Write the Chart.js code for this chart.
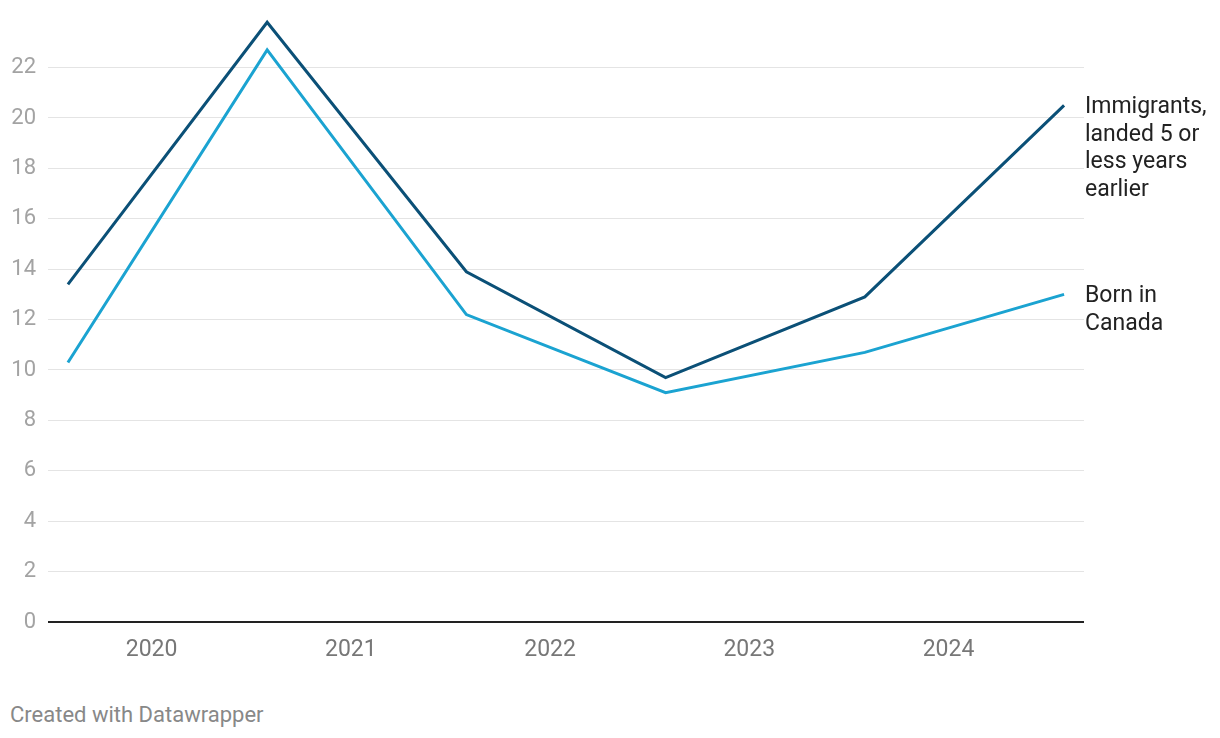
<!DOCTYPE html>
<html>
<head>
<meta charset="utf-8">
<script src="https://cdn.jsdelivr.net/npm/chart.js@4"></script>
<style>
  html, body { margin: 0; padding: 0; background: #fff; }
  body { width: 1220px; height: 738px; position: relative; overflow: hidden; font-family: Roboto, sans-serif; }
  #wrap { position: absolute; left: 0; top: -8px; width: 1220px; height: 690px; }
  #credit { position: absolute; left: 10px; top: 702px; font-size: 22px; line-height: 26px; color: #888; }
</style>
</head>
<body>
<div id="wrap"><canvas id="lineChart"></canvas></div>
<div id="credit">Created with Datawrapper</div>
<script>
// point positions as decimal years (one reading per year)
const pointYears = [2020.08, 2021.08, 2022.08, 2023.08, 2024.08, 2025.08];
const yearLabels = [2020, 2021, 2022, 2023, 2024];
const immigrants = [13.4, 23.8, 13.9, 9.7, 12.9, 20.5];
const bornInCanada = [10.3, 22.7, 12.2, 9.1, 10.7, 13.0];
const seriesNames = [['Immigrants,', 'landed 5 or', 'less years', 'earlier'], ['Born in', 'Canada']];
const yTicks = [0, 2, 4, 6, 8, 10, 12, 14, 16, 18, 20, 22];

function toPoints(values) {
    return values.map(function (v, i) { return { x: pointYears[i], y: v }; });
}

// draw the series names next to the last point
const endLabels = {
    id: 'endLabels',
    afterDatasetsDraw: function (chart) {
        const ctx = chart.ctx;
        ctx.save();
        ctx.font = '23px Roboto, sans-serif';
        ctx.fillStyle = '#222';
        ctx.textBaseline = 'middle';
        ctx.textAlign = 'left';
        chart.data.datasets.forEach(function (ds, i) {
            const meta = chart.getDatasetMeta(i);
            const last = meta.data[meta.data.length - 1];
            ds.endLabel.forEach(function (line, j) {
                ctx.fillText(line, chart.chartArea.right + 1, last.y + 2 + j * 27.5);
            });
        });
        ctx.restore();
    }
};

const ctx = document.getElementById('lineChart');
new Chart(ctx.getContext('2d'), {
    type: 'line',
    data: {
        datasets: [{
            label: 'Immigrants, landed 5 or less years earlier',
            endLabel: seriesNames[0],
            data: toPoints(immigrants),
            borderColor: '#0b5077',
            borderWidth: 3,
            pointRadius: 0,
            tension: 0
        }, {
            label: 'Born in Canada',
            endLabel: seriesNames[1],
            data: toPoints(bornInCanada),
            borderColor: '#1ba3d1',
            borderWidth: 3,
            pointRadius: 0,
            tension: 0
        }]
    },
    options: {
        responsive: true,
        maintainAspectRatio: false,
        animation: false,
        layout: { padding: { top: 0, right: 136, left: 0, bottom: 0 } },
        scales: {
            x: {
                type: 'linear',
                min: 2019.98,
                max: 2025.18,
                afterBuildTicks: function (axis) {
                    axis.ticks = yearLabels.map(function (y) { return { value: y + 0.5 }; });
                },
                afterFit: function (axis) { axis.height = 60; },
                grid: { display: false, drawTicks: false },
                border: { display: false },
                ticks: {
                    padding: 14,
                    maxRotation: 0,
                    autoSkip: false,
                    color: '#777',
                    font: { family: 'Roboto', size: 23 },
                    callback: function (v) { return String(Math.floor(v)); }
                }
            },
            y: {
                min: 0,
                max: 24,
                afterBuildTicks: function (axis) {
                    axis.ticks = yTicks.map(function (v) { return { value: v }; });
                },
                afterFit: function (axis) { axis.width = 48; },
                grid: {
                    drawTicks: false,
                    color: function (c) { return c.tick && c.tick.value === 0 ? '#222' : '#e4e4e4'; },
                    lineWidth: function (c) { return c.tick && c.tick.value === 0 ? 2 : 1; }
                },
                border: { display: false },
                ticks: {
                    padding: 12,
                    color: '#a3a3a3',
                    font: { family: 'Roboto', size: 22 }
                }
            }
        },
        plugins: {
            legend: { display: false },
            tooltip: { enabled: false }
        }
    },
    plugins: [endLabels]
});
</script>
</body>
</html>
